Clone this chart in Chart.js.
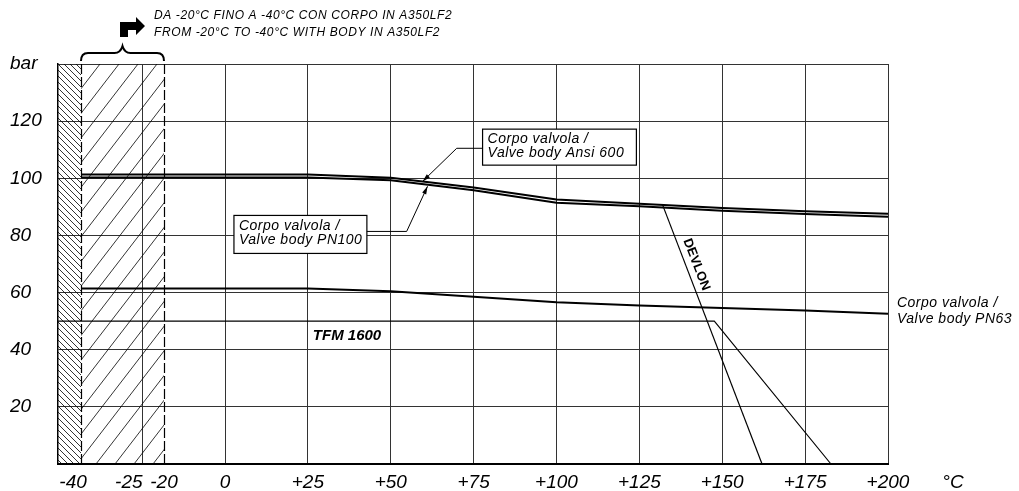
<!DOCTYPE html>
<html>
<head>
<meta charset="utf-8">
<script src="https://cdn.jsdelivr.net/npm/chart.js@4.4.1/dist/chart.umd.min.js"></script>
<style>
  html, body { margin: 0; padding: 0; background: #fff; }
</style>
</head>
<body>
<canvas id="myChart" width="1019" height="491"></canvas>
<script>
const tempSteps = [-40, 0, 25, 50, 75, 100, 125, 150, 175, 200];
const ansi600 = [101.3, 101.3, 101.3, 100.2, 96.8, 92.6, 91.1, 89.6, 88.5, 87.6];
const pn100 = [100.3, 100.3, 100.3, 99.3, 95.8, 91.4, 90.2, 88.6, 87.5, 86.5];
const pn63 = [61.4, 61.4, 61.4, 60.5, 58.5, 56.6, 55.5, 54.6, 53.7, 52.6];

const devlonTemps = [132, 162];
const devlonBar = [90.7, 0];
const tfmTemps = [-47, 147.6, 182.8];
const tfmBar = [50, 50, 0];

const xTicks = [-40, -25, -20, 0, 25, 50, 75, 100, 125, 150, 175, 200];
const xTickLabels = ['-40', '-25', '-20', '0', '+25', '+50', '+75', '+100', '+125', '+150', '+175', '+200'];
const yTicks = [0, 20, 40, 60, 80, 100, 120, 140];
const yTickLabels = ['', '20', '40', '60', '80', '100', '120', 'bar'];

// the sheet is not drawn to a single scale on the cold side: knots of the x axis
const xKnots = [-47, -40, -25, -20, 0, 200];
const xKnotUnits = [0, 23, 84, 106, 167, 830];
const dashedAt = [-40, -20];

function knotDecimal(v) {
    const n = xKnots.length;
    let i = 0;
    while (i < n - 2 && v > xKnots[i + 1]) i++;
    const f = (v - xKnots[i]) / (xKnots[i + 1] - xKnots[i]);
    return (xKnotUnits[i] + f * (xKnotUnits[i + 1] - xKnotUnits[i])) / xKnotUnits[n - 1];
}

function knotValue(dec) {
    const n = xKnots.length;
    const u = dec * xKnotUnits[n - 1];
    let i = 0;
    while (i < n - 2 && u > xKnotUnits[i + 1]) i++;
    const f = (u - xKnotUnits[i]) / (xKnotUnits[i + 1] - xKnotUnits[i]);
    return xKnots[i] + f * (xKnots[i + 1] - xKnots[i]);
}

class KnotScale extends Chart.LinearScale {
    getPixelForValue(value) {
        return this.getPixelForDecimal(knotDecimal(value));
    }
    getValueForPixel(pixel) {
        return knotValue(this.getDecimalForPixel(pixel));
    }
}
KnotScale.id = 'knot';
KnotScale.defaults = Chart.LinearScale.defaults;
Chart.register(KnotScale);

const FONT = '"Liberation Sans", Arial, sans-serif';

function toPoints(xs, ys) {
    return xs.map((x, i) => ({ x: x, y: ys[i] }));
}

function arrowHead(ctx, fx, fy, tx, ty) {
    const ang = Math.atan2(ty - fy, tx - fx);
    const len = 8, w = 2.2;
    ctx.beginPath();
    ctx.moveTo(tx, ty);
    ctx.lineTo(tx - len * Math.cos(ang) + w * Math.sin(ang), ty - len * Math.sin(ang) - w * Math.cos(ang));
    ctx.lineTo(tx - len * Math.cos(ang) - w * Math.sin(ang), ty - len * Math.sin(ang) + w * Math.cos(ang));
    ctx.closePath();
    ctx.fill();
}

function labelBox(ctx, x1, y1, x2, y2, lines, first, step) {
    ctx.fillStyle = '#fff';
    ctx.fillRect(x1, y1, x2 - x1, y2 - y1);
    ctx.strokeStyle = '#000';
    ctx.lineWidth = 1.2;
    ctx.strokeRect(x1, y1, x2 - x1, y2 - y1);
    ctx.fillStyle = '#000';
    ctx.textAlign = 'left';
    ctx.textBaseline = 'middle';
    lines.forEach((s, i) => ctx.fillText(s, x1 + 5, y1 + first + i * step));
}

const drawingPlugin = {
    id: 'drawing',
    beforeDraw(chart) {
        const ctx = chart.ctx;
        ctx.save();
        ctx.fillStyle = '#fff';
        ctx.fillRect(0, 0, chart.width, chart.height);
        ctx.restore();
    },
    beforeDatasetsDraw(chart) {
        const { ctx, chartArea: a, scales: { x } } = chart;
        const x40 = x.getPixelForValue(-40);
        const x20 = x.getPixelForValue(-20);
        const h = a.bottom - a.top;

        // tratteggio fascia sinistra
        ctx.save();
        ctx.beginPath();
        ctx.rect(a.left, a.top, x40 - a.left, h);
        ctx.clip();
        ctx.strokeStyle = '#000';
        ctx.lineWidth = 0.8;
        ctx.beginPath();
        for (let y = a.top - 30; y < a.bottom; y += 6) {
            ctx.moveTo(a.left, y);
            ctx.lineTo(x40, y + (x40 - a.left));
        }
        ctx.stroke();
        ctx.restore();

        // tratteggio da -40 a -20
        ctx.save();
        ctx.beginPath();
        ctx.rect(x40, a.top, x20 - x40, h);
        ctx.clip();
        ctx.strokeStyle = '#000';
        ctx.lineWidth = 0.8;
        const run = h * 0.77;
        ctx.beginPath();
        for (let xs = x40 - run; xs < x20; xs += 19) {
            ctx.moveTo(xs, a.bottom);
            ctx.lineTo(xs + run, a.top);
        }
        ctx.stroke();
        ctx.restore();

        // linee tratteggiate a -40 e -20
        ctx.save();
        ctx.strokeStyle = '#000';
        ctx.lineWidth = 1.2;
        ctx.setLineDash([10, 3]);
        dashedAt.forEach(v => {
            const px = Math.round(x.getPixelForValue(v)) + 0.5;
            ctx.beginPath();
            ctx.moveTo(px, a.top);
            ctx.lineTo(px, a.bottom);
            ctx.stroke();
        });
        ctx.restore();
    },
    afterDatasetsDraw(chart) {
        const { ctx, chartArea: a, scales: { x, y } } = chart;
        const P = (t, b) => [x.getPixelForValue(t), y.getPixelForValue(b)];
        ctx.save();
        ctx.fillStyle = '#000';
        ctx.strokeStyle = '#000';

        // nota in alto
        ctx.font = 'italic 12px ' + FONT;
        ctx.letterSpacing = '0.6px';
        ctx.textAlign = 'left';
        ctx.textBaseline = 'middle';
        const tx = x.getPixelForValue(-20) - 10;
        ctx.fillText('DA -20°C FINO A -40°C CON CORPO IN A350LF2', tx, a.top - 48);
        ctx.fillText('FROM -20°C TO -40°C WITH BODY IN A350LF2', tx, a.top - 31);

        // graffa sopra la zona -40/-20
        const xa = x.getPixelForValue(-40), xb = x.getPixelForValue(-20);
        const mx = (xa + xb) / 2, ty = a.top;
        ctx.lineWidth = 2;
        ctx.beginPath();
        ctx.moveTo(xa, ty - 3);
        ctx.quadraticCurveTo(xa, ty - 11, xa + 7, ty - 11);
        ctx.lineTo(mx - 8, ty - 11);
        ctx.quadraticCurveTo(mx - 2, ty - 11, mx, ty - 18);
        ctx.quadraticCurveTo(mx + 2, ty - 11, mx + 8, ty - 11);
        ctx.lineTo(xb - 7, ty - 11);
        ctx.quadraticCurveTo(xb, ty - 11, xb, ty - 3);
        ctx.stroke();

        // freccia piegata
        ctx.beginPath();
        ctx.moveTo(mx - 2.5, ty - 27);
        ctx.lineTo(mx + 5.5, ty - 27);
        ctx.lineTo(mx + 5.5, ty - 34);
        ctx.lineTo(mx + 13.5, ty - 34);
        ctx.lineTo(mx + 13.5, ty - 29);
        ctx.lineTo(mx + 22.5, ty - 38);
        ctx.lineTo(mx + 13.5, ty - 47);
        ctx.lineTo(mx + 13.5, ty - 42);
        ctx.lineTo(mx - 2.5, ty - 42);
        ctx.closePath();
        ctx.fill();

        // etichetta Ansi 600
        ctx.font = 'italic 14px ' + FONT;
        ctx.letterSpacing = '0.5px';
        let [b1x, b1y] = P(77.7, 117.2);
        let [b2x, b2y] = P(124.1, 104.6);
        labelBox(ctx, b1x, b1y, b2x, b2y, ['Corpo valvola /', 'Valve body Ansi 600'], 10, 14);
        let [l1x, l1y] = P(77.7, 110.5);
        let [l2x] = P(69.9, 0);
        let [l3x, l3y] = P(59.6, 98.9);
        ctx.lineWidth = 1;
        ctx.beginPath();
        ctx.moveTo(l1x, l1y);
        ctx.lineTo(l2x, l1y);
        ctx.lineTo(l3x, l3y);
        ctx.stroke();
        arrowHead(ctx, l2x, l1y, l3x, l3y);

        // etichetta PN100
        [b1x, b1y] = P(2.7, 87.0);
        [b2x, b2y] = P(42.8, 73.7);
        labelBox(ctx, b1x, b1y, b2x, b2y, ['Corpo valvola /', 'Valve body PN100'], 11, 14);
        [l1x, l1y] = P(42.8, 81.4);
        [l2x] = P(54.8, 0);
        [l3x, l3y] = P(61.1, 97.2);
        ctx.lineWidth = 1;
        ctx.beginPath();
        ctx.moveTo(l1x, l1y);
        ctx.lineTo(l2x, l1y);
        ctx.lineTo(l3x, l3y);
        ctx.stroke();
        arrowHead(ctx, l2x, l1y, l3x, l3y);

        // etichetta PN63 fuori dal grafico
        ctx.fillStyle = '#000';
        let [px, py] = P(202.7, 56.4);
        ctx.fillText('Corpo valvola /', px, py);
        ctx.fillText('Valve body PN63', px, py + 16);

        // TFM 1600
        ctx.font = 'italic bold 15px ' + FONT;
        ctx.letterSpacing = '0px';
        [px, py] = P(26.5, 44.9);
        ctx.fillText('TFM 1600', px, py);

        // DEVLON lungo la sua retta
        const [d1x, d1y] = P(devlonTemps[0], devlonBar[0]);
        const [d2x, d2y] = P(devlonTemps[1], devlonBar[1]);
        [px, py] = P(142.2, 69.8);
        ctx.save();
        ctx.translate(px, py);
        ctx.rotate(Math.atan2(d2y - d1y, d2x - d1x));
        ctx.font = 'bold 13px ' + FONT;
        ctx.textAlign = 'center';
        ctx.fillText('DEVLON', 0, 0);
        ctx.restore();

        // unità asse x
        ctx.font = 'italic 19px ' + FONT;
        ctx.textAlign = 'center';
        ctx.fillText('°C', 953, a.bottom + 19);

        ctx.restore();
    }
};

const lineStyle = {
    pointRadius: 0,
    borderColor: '#000',
    fill: false,
    tension: 0
};

const ctx = document.getElementById('myChart').getContext('2d');
const chart = new Chart(ctx, {
    type: 'line',
    data: {
        datasets: [
            { ...lineStyle, label: 'Ansi 600', data: toPoints(tempSteps, ansi600), borderWidth: 2 },
            { ...lineStyle, label: 'PN100', data: toPoints(tempSteps, pn100), borderWidth: 2 },
            { ...lineStyle, label: 'PN63', data: toPoints(tempSteps, pn63), borderWidth: 2 },
            { ...lineStyle, label: 'DEVLON', data: toPoints(devlonTemps, devlonBar), borderWidth: 1.2 },
            { ...lineStyle, label: 'TFM 1600', data: toPoints(tfmTemps, tfmBar), borderWidth: 1.1 }
        ]
    },
    options: {
        responsive: false,
        animation: false,
        events: [],
        layout: { padding: { left: 10, top: 64, right: 131, bottom: 0 } },
        plugins: {
            legend: { display: false },
            tooltip: { enabled: false }
        },
        scales: {
            x: {
                type: 'knot',
                min: xKnots[0],
                max: 200,
                afterBuildTicks: axis => { axis.ticks = xTicks.map(v => ({ value: v })); },
                afterFit: axis => { axis.height = 27; },
                grid: {
                    drawTicks: false,
                    lineWidth: 1,
                    color: c => (c.tick && dashedAt.includes(c.tick.value)) ? 'rgba(0,0,0,0)' : '#333'
                },
                border: { display: true, color: '#000', width: 2 },
                ticks: {
                    autoSkip: false,
                    maxRotation: 0,
                    minRotation: 0,
                    padding: 7,
                    color: '#000',
                    font: { family: FONT, size: 19, style: 'italic' },
                    callback: (v, i) => xTickLabels[i] + (i === 0 ? '   ' : i === 1 ? '     ' : '')
                }
            },
            y: {
                min: 0,
                max: 140,
                afterBuildTicks: axis => { axis.ticks = yTicks.map(v => ({ value: v })); },
                afterFit: axis => { axis.width = 48; },
                grid: { drawTicks: false, lineWidth: 1, color: '#333' },
                border: { display: true, color: '#000', width: 1.5 },
                ticks: {
                    crossAlign: 'far',
                    padding: 0,
                    color: '#000',
                    font: { family: FONT, size: 19, style: 'italic' },
                    callback: (v, i) => yTickLabels[i]
                }
            }
        }
    },
    plugins: [drawingPlugin]
});
</script>
</body>
</html>
